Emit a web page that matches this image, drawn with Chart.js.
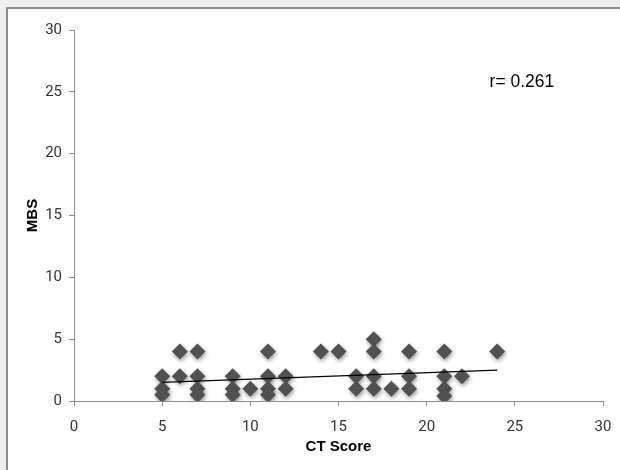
<!DOCTYPE html>
<html>
<head>
<meta charset="utf-8">
<script src="https://cdn.jsdelivr.net/npm/chart.js@4.4.0/dist/chart.umd.min.js"></script>
<style>
  body { margin: 0; background: #efefef; width: 620px; height: 470px; overflow: hidden; }
  #frame { position: absolute; left: 6px; top: 7px; right: 0; bottom: 0; background: #fff;
           border-top: 2px solid #8c8c8c; border-left: 2px solid #8c8c8c; }
  #wrap { position: absolute; left: 0; top: 0; width: 620px; height: 470px; }
</style>
</head>
<body>
<div id="frame"></div>
<div id="wrap"><canvas id="scatterChart"></canvas></div>
<script>
// CT score / MBS pairs
const ctScores  = [5, 5, 5, 6, 6, 7, 7, 7, 7, 9, 9, 9, 10, 11, 11, 11, 11, 12, 12, 14, 15, 16, 16, 17, 17, 17, 17, 18, 19, 19, 19, 21, 21, 21, 21, 22, 24];
const mbsValues = [2, 1, 0.5, 4, 2, 4, 2, 1, 0.5, 2, 1, 0.5, 1, 4, 2, 1, 0.5, 2, 1, 4, 4, 2, 1, 5, 4, 2, 1, 1, 4, 2, 1, 4, 2, 1, 0.4, 2, 4];

// linear trend line end points
const trendX = [5, 24];
const trendY = [1.5, 2.5];

const xTicks = [0, 5, 10, 15, 20, 25, 30];
const yTicks = [0, 5, 10, 15, 20, 25, 30];
const rLabel = 'r= 0.261';

const points = ctScores.map((x, i) => ({ x: x, y: mbsValues[i] }));
const trend = trendX.map((x, i) => ({ x: x, y: trendY[i] }));

const tickFont = { family: 'Roboto, "DejaVu Sans Condensed", sans-serif', size: 15 };
const titleFont = { family: '"Liberation Sans", Arial, sans-serif', size: 15, weight: 'bold' };

// soft shadow under the diamonds
const shadowPlugin = {
    id: 'markerShadow',
    beforeDatasetDraw(chart, args) {
        if (args.index !== 0) return;
        const ctx = chart.ctx;
        ctx.save();
        ctx.shadowColor = 'rgba(0, 0, 0, 0.4)';
        ctx.shadowBlur = 4;
        ctx.shadowOffsetX = 1;
        ctx.shadowOffsetY = 2;
    },
    afterDatasetDraw(chart, args) {
        if (args.index !== 0) return;
        chart.ctx.restore();
    }
};

// the r value in the upper right
const rTextPlugin = {
    id: 'rText',
    afterDraw(chart) {
        const ctx = chart.ctx;
        const x = chart.scales.x.getPixelForValue(25.4);
        const y = chart.scales.y.getPixelForValue(25.8);
        ctx.save();
        ctx.translate(x, y);
        ctx.scale(0.92, 1);   // the original text looks a bit condensed
        ctx.font = '19px "Liberation Sans", Arial, sans-serif';
        ctx.fillStyle = '#000';
        ctx.textAlign = 'center';
        ctx.textBaseline = 'middle';
        ctx.fillText(rLabel, 0, 0);
        ctx.restore();
    }
};

const ctx = document.getElementById('scatterChart').getContext('2d');

new Chart(ctx, {
    type: 'scatter',
    data: {
        datasets: [{
            label: 'MBS',
            data: points,
            pointStyle: 'rectRot',
            pointRadius: 8,
            pointBackgroundColor: '#515151',
            pointBorderWidth: 0,
            order: 1
        }, {
            type: 'line',
            label: 'Linear',
            data: trend,
            showLine: true,
            pointRadius: 0,
            borderColor: '#000',
            borderWidth: 1.3,
            fill: false,
            order: 0
        }]
    },
    options: {
        responsive: true,
        maintainAspectRatio: false,
        animation: false,
        layout: { padding: { top: 30, right: 17, left: 0, bottom: 0 } },
        scales: {
            x: {
                type: 'linear',
                min: 0,
                max: 30,
                afterBuildTicks: scale => { scale.ticks = xTicks.map(v => ({ value: v })); },
                afterFit: scale => {
                    scale.height = 69;
                    scale.paddingRight = 0;
                    scale.paddingLeft = 0;
                },
                grid: { drawOnChartArea: false, drawTicks: true, tickLength: 5, color: '#8c8c8c' },
                border: { color: '#8c8c8c' },
                ticks: { color: '#333', font: tickFont, padding: 12 },
                title: { display: true, text: 'CT Score', color: '#000', font: titleFont, padding: { top: 6, bottom: 14 } }
            },
            y: {
                min: 0,
                max: 30,
                afterBuildTicks: scale => { scale.ticks = yTicks.map(v => ({ value: v })); },
                afterFit: scale => { scale.width = 74; },
                grid: { drawOnChartArea: false, drawTicks: true, tickLength: 5, color: '#8c8c8c' },
                border: { color: '#8c8c8c' },
                ticks: { color: '#333', font: tickFont, padding: 7 },
                title: { display: true, text: 'MBS', color: '#000', font: titleFont, padding: { top: 24, bottom: 0 } }
            }
        },
        plugins: {
            legend: { display: false },
            tooltip: { enabled: false }
        }
    },
    plugins: [shadowPlugin, rTextPlugin]
});
</script>
</body>
</html>
